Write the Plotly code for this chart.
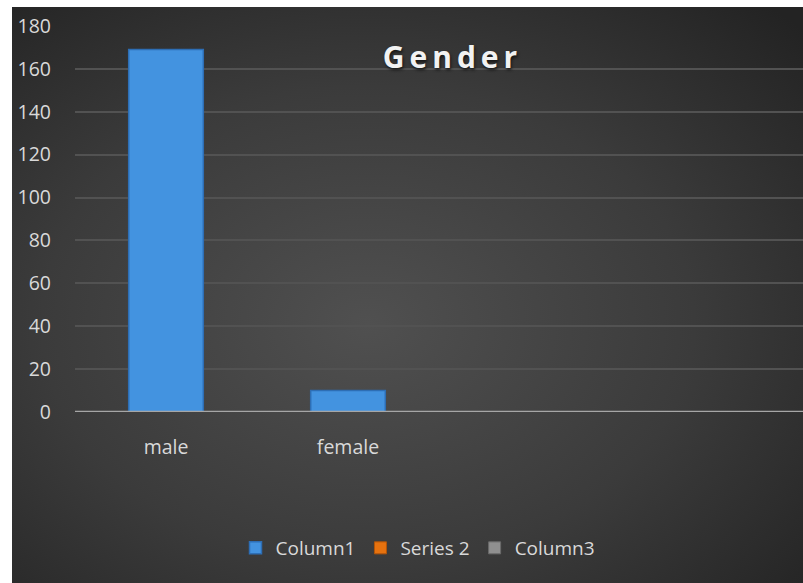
import plotly.graph_objects as go

# Chart data
categories = ["male", "female", "", ""]
column1 = [169, 10, None, None]
series2 = [None, None, None, None]
column3 = [None, None, None, None]
y_ticks = [0, 20, 40, 60, 80, 100, 120, 140, 160, 180]

W, H = 803, 583
M_L, M_R, M_T, M_B = 75, 0, 26, 171
plot_w = W - M_L - M_R
plot_h = H - M_T - M_B

x_pos = list(range(len(categories)))

fig = go.Figure()
fig.add_trace(go.Bar(
    x=x_pos, y=column1, name="Column1", width=0.41,
    marker=dict(color="#4393e0", line=dict(color="#2d6eb5", width=1.5)),
))
fig.add_trace(go.Bar(
    x=x_pos, y=series2, name="Series 2", width=0.41,
    marker=dict(color="#e6720f", line=dict(color="#b35508", width=1)),
))
fig.add_trace(go.Bar(
    x=x_pos, y=column3, name="Column3", width=0.41,
    marker=dict(color="#8f8f8f", line=dict(color="#6a6a6a", width=1)),
))

# dark radial-gradient backdrop (SVG data URI)
svg = (
    "<svg xmlns='http://www.w3.org/2000/svg' width='791' height='576'>"
    "<defs><radialGradient id='g' cx='45%' cy='55%' r='75%'>"
    "<stop offset='0%' stop-color='%23505050'/>"
    "<stop offset='55%' stop-color='%233b3b3b'/>"
    "<stop offset='100%' stop-color='%23232323'/>"
    "</radialGradient></defs>"
    "<rect width='791' height='576' fill='url(%23g)'/></svg>"
)
bg_src = "data:image/svg+xml;utf8," + svg.replace("<", "%3C").replace(">", "%3E").replace("'", "%27")

bg_left, bg_top = 12, 7
fig.add_layout_image(dict(
    source=bg_src, xref="paper", yref="paper",
    x=(bg_left - M_L) / plot_w, y=(H - M_B - bg_top) / plot_h,
    sizex=(W - bg_left) / plot_w, sizey=(H - bg_top) / plot_h,
    sizing="stretch", xanchor="left", yanchor="top", layer="below",
))

fig.update_layout(
    width=W, height=H,
    margin=dict(l=M_L, r=M_R, t=M_T, b=M_B, pad=0),
    paper_bgcolor="white",
    plot_bgcolor="rgba(0,0,0,0)",
    barmode="overlay",
    font=dict(family="Open Sans", color="#d9d9d9", size=19),
    showlegend=True,
    legend=dict(
        orientation="h", x=(418 - M_L) / plot_w, xanchor="center",
        y=(H - M_B - 548) / plot_h, yanchor="middle",
        font=dict(size=19, color="#d9d9d9"),
        bgcolor="rgba(0,0,0,0)", itemwidth=30, traceorder="normal",
    ),
    xaxis=dict(
        range=[-0.5, len(categories) - 0.5],
        tickmode="array", tickvals=x_pos, ticktext=categories,
        showgrid=False, zeroline=False, showline=False,
        ticks="", ticklabelstandoff=21,
        tickfont=dict(size=19.5, color="#d9d9d9"),
        fixedrange=True,
    ),
    yaxis=dict(
        range=[0, 180], tickmode="array", tickvals=y_ticks,
        showgrid=True, gridcolor="#525252", gridwidth=1.5,
        zeroline=False, showline=False,
        ticks="", ticklabelstandoff=23,
        tickfont=dict(size=19.5, color="#d9d9d9"),
        fixedrange=True,
    ),
    title=dict(
        text="<b>G e n d e r</b>".replace(" ", "\u2009"),
        x=450 / W, xanchor="center", y=1 - 57 / H, yanchor="middle",
        font=dict(family="Open Sans", size=30, color="#f2f2f2",
                  shadow="1px 2px 3px #151515"),
    ),
)

# baseline at zero
fig.add_shape(type="line", xref="paper", yref="y", x0=0, x1=1, y0=0, y1=0,
              line=dict(color="#a6a6a6", width=2.5), layer="above")

fig.write_html("out.html")
